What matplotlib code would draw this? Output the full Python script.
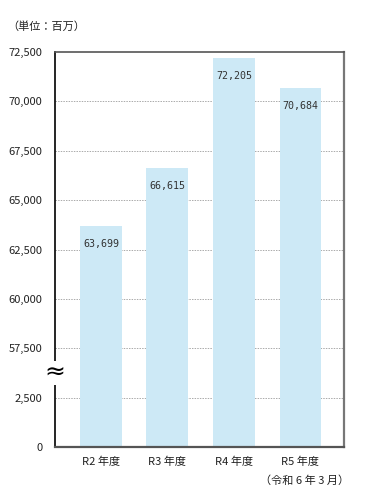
import numpy as np
import matplotlib
matplotlib.use('Agg')
import matplotlib.pyplot as plt

plt.rcParams['font.family'] = ['Noto Sans CJK JP', 'DejaVu Sans']

years = ['R2 年度', 'R3 年度', 'R4 年度', 'R5 年度']
values = [63699, 66615, 72205, 70684]
tick_vals = [0, 2500, 57500, 60000, 62500, 65000, 67500, 70000, 72500]
tick_labels = ['0', '2,500', '57,500', '60,000', '62,500', '65,000', '67,500', '70,000', '72,500']

## broken axis: 0..2500 and 57500..72500 drawn with equal steps
def fwd(v):
    v = np.asarray(v, dtype=float)
    return np.where(v <= 2500, v / 2500,
                    np.where(v >= 57500, 2 + (v - 57500) / 2500,
                             1 + (v - 2500) / 55000))

def inv(t):
    t = np.asarray(t, dtype=float)
    return np.where(t <= 1, t * 2500,
                    np.where(t >= 2, 57500 + (t - 2) * 2500,
                             2500 + (t - 1) * 55000))

fig = plt.figure(figsize=[3.83, 5.0], dpi=100)
ax = fig.add_axes([55/383, 1 - 447/500, 289/383, 395/500])
ax.set_yscale('function', functions=(fwd, inv))

x = np.arange(len(years))
ax.bar(x, values, width=0.63, color='#cde9f6', zorder=2)
for xi, v in zip(x, values):
    t = fwd(v) - 0.37
    ax.text(xi, inv(t), f'{v:,}', ha='center', va='center',
            fontsize=7.2, family='DejaVu Sans Mono', color='#333333', zorder=3)

ax.set_xlim(-0.69, 3.654)
ax.set_ylim(0, 72500)
ax.set_yticks(tick_vals)
ax.set_yticklabels(tick_labels)
ax.set_xticks(x)
ax.set_xticklabels(years)
ax.tick_params(length=0, labelsize=8, colors='#222222')
ax.tick_params(axis='y', pad=9)
ax.tick_params(axis='x', pad=7)
ax.minorticks_off()

for v in tick_vals[1:-1]:
    ax.axhline(v, color='#aaaaaa', lw=0.7, ls=(0, (1.5, 1.2)), zorder=1)

ax.spines['left'].set_color('black')
ax.spines['left'].set_linewidth(1.2)
ax.spines['top'].set_color('#555555')
ax.spines['top'].set_linewidth(1.2)
ax.spines['right'].set_color('#777777')
ax.spines['right'].set_linewidth(1.6)
ax.spines['bottom'].set_color('#555555')
ax.spines['bottom'].set_linewidth(1.6)

## break mark on the axis
ax.text(0, inv(1.5), '≈', transform=ax.get_yaxis_transform(), ha='center', va='center',
        fontsize=18, family='DejaVu Sans', color='black', zorder=5, clip_on=False,
        bbox=dict(facecolor='white', edgecolor='none', pad=0.2))

fig.text(7/383, 1 - 27/500, '（単位：百万）', fontsize=8, va='center', ha='left', color='#222222')
fig.text(349/383, 1 - 481/500, '（令和 6 年 3 月）', fontsize=8, va='center', ha='right', color='#222222')

plt.savefig('out.png', dpi=100)
plt.close()
